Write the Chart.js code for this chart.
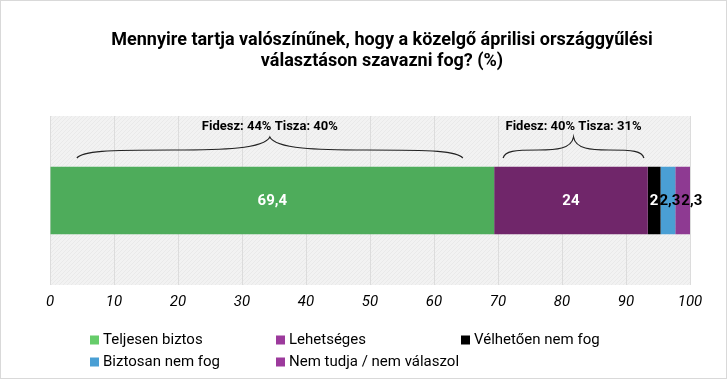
<!DOCTYPE html>
<html>
<head>
<meta charset="utf-8">
<script src="https://cdn.jsdelivr.net/npm/chart.js@4.4.0/dist/chart.umd.min.js"></script>
<style>
  body { margin: 0; background: #fff; }
  #wrap { width: 727px; height: 379px; position: relative; }
</style>
</head>
<body>
<div id="wrap"><canvas id="likely"></canvas></div>
<script>
// chart data
var titleLines = ["Mennyire tartja valószínűnek, hogy a közelgő áprilisi országgyűlési", "választáson szavazni fog? (%)"];
var categories = [""];
var seriesNames = ["Teljesen biztos", "Lehetséges", "Vélhetően nem fog", "Biztosan nem fog", "Nem tudja / nem válaszol"];
var seriesValues = [69.4, 24, 2, 2.3, 2.3];
var xTicks = [0, 10, 20, 30, 40, 50, 60, 70, 80, 90, 100];
var braceTexts = ["Fidesz: 44% Tisza: 40%", "Fidesz: 40% Tisza: 31%"];
var braceFrom = [4.2, 70.8];
var braceTo = [64.5, 92.8];

var barColors = ["#4eac5b", "#70266a", "#000000", "#4a9fd4", "#8e3a92"];
var legendColors = ["#66cc6a", "#9c3a9c", "#000000", "#4a9fd4", "#9c3a9c"];
var labelColors = ["#fff", "#fff", "#fff", "#000", "#000"];
var FONT = "'Roboto', 'Liberation Sans', sans-serif";

function fmt(v) { return String(v).replace(".", ","); }

// hatched grey plot background
var pat = document.createElement("canvas");
pat.width = 4; pat.height = 4;
var pc = pat.getContext("2d");
pc.fillStyle = "#f2f2f2"; pc.fillRect(0, 0, 4, 4);
pc.fillStyle = "#e9e9e9";
pc.fillRect(0, 3, 1, 1); pc.fillRect(1, 2, 1, 1); pc.fillRect(2, 1, 1, 1); pc.fillRect(3, 0, 1, 1);

var backdrop = {
  id: "backdrop",
  beforeDraw: function (chart) {
    var c = chart.ctx, a = chart.chartArea;
    c.save();
    c.fillStyle = "#fff";
    c.fillRect(0, 0, chart.width, chart.height);
    c.strokeStyle = "#d9d9d9";
    c.strokeRect(0.5, 0.5, chart.width - 1, chart.height - 1);
    c.fillStyle = c.createPattern(pat, "repeat");
    c.fillRect(a.left, a.top, a.right - a.left, a.bottom - a.top);
    // title
    c.fillStyle = "#000";
    c.font = "bold 18px " + FONT;
    c.textAlign = "center";
    c.textBaseline = "alphabetic";
    c.fillText(titleLines[0], 382, 45);
    c.fillText(titleLines[1], 382, 66);
    c.restore();
  }
};

var extras = {
  id: "extras",
  afterDatasetsDraw: function (chart) {
    var c = chart.ctx, xs = chart.scales.x;
    c.save();
    // value labels
    c.font = "bold 15px " + FONT;
    c.textBaseline = "middle";
    c.textAlign = "left";
    var prevRight = -1e9;
    chart.data.datasets.forEach(function (ds, i) {
      var bar = chart.getDatasetMeta(i).data[0];
      var txt = fmt(ds.data[0]);
      var w = c.measureText(txt).width;
      var left = (bar.x + bar.base) / 2 - w / 2;
      if (left < prevRight + 1) left = prevRight + 1;
      c.fillStyle = labelColors[i];
      c.fillText(txt, left, bar.y + 1);
      prevRight = left + w;
    });
    // braces
    c.strokeStyle = "#222";
    c.lineWidth = 1.2;
    for (var k = 0; k < braceTexts.length; k++) {
      var x1 = xs.getPixelForValue(braceFrom[k]);
      var x2 = xs.getPixelForValue(braceTo[k]);
      var xm = (x1 + x2) / 2, w2 = xm - x1;
      var yEnd = 158, yMid = 150, yTip = 137;
      c.beginPath();
      c.moveTo(x1, yEnd);
      c.bezierCurveTo(x1 + 0.03 * w2, yMid + 1, x1 + 0.15 * w2, yMid, x1 + 0.5 * w2, yMid);
      c.bezierCurveTo(xm - 0.25 * w2, yMid, xm - 0.03 * w2, yMid - 1, xm, yTip);
      c.bezierCurveTo(xm + 0.03 * w2, yMid - 1, xm + 0.25 * w2, yMid, x2 - 0.5 * w2, yMid);
      c.bezierCurveTo(x2 - 0.15 * w2, yMid, x2 - 0.03 * w2, yMid + 1, x2, yEnd);
      c.stroke();
      c.fillStyle = "#000";
      c.font = "bold 13px " + FONT;
      c.textAlign = "center";
      c.fillText(braceTexts[k], xm, 127);
    }
    // legend
    var colX = [90, 276, 461], rowY = [340, 362];
    c.font = "15px " + FONT;
    c.textAlign = "left";
    c.textBaseline = "middle";
    for (var j = 0; j < seriesNames.length; j++) {
      var lx = colX[j % 3], ly = rowY[Math.floor(j / 3)];
      c.fillStyle = legendColors[j];
      c.fillRect(lx, ly - 4.5, 9, 9);
      c.fillStyle = "#000";
      c.fillText(seriesNames[j], lx + 13, ly);
    }
    c.restore();
  }
};

var datasets = seriesNames.map(function (name, i) {
  return {
    label: name,
    data: [seriesValues[i]],
    backgroundColor: barColors[i],
    borderWidth: 0,
    barPercentage: 0.4,
    categoryPercentage: 1.0
  };
});

var ctx = document.getElementById("likely").getContext("2d");
var myChart = new Chart(ctx, {
  type: "bar",
  data: { labels: categories, datasets: datasets },
  plugins: [backdrop, extras],
  options: {
    indexAxis: "y",
    responsive: true,
    maintainAspectRatio: false,
    animation: false,
    layout: { padding: { left: 50, right: 37, top: 116, bottom: 60 } },
    plugins: { legend: { display: false }, title: { display: false }, tooltip: { enabled: false } },
    scales: {
      x: {
        stacked: true,
        min: xTicks[0],
        max: xTicks[xTicks.length - 1],
        ticks: {
          stepSize: xTicks[1] - xTicks[0],
          color: "#000",
          padding: 8,
          font: { family: FONT, size: 15, style: "italic" }
        },
        grid: { color: "#dcdcdc", drawTicks: false },
        border: { display: false }
      },
      y: { stacked: true, display: false }
    }
  }
});
</script>
</body>
</html>
